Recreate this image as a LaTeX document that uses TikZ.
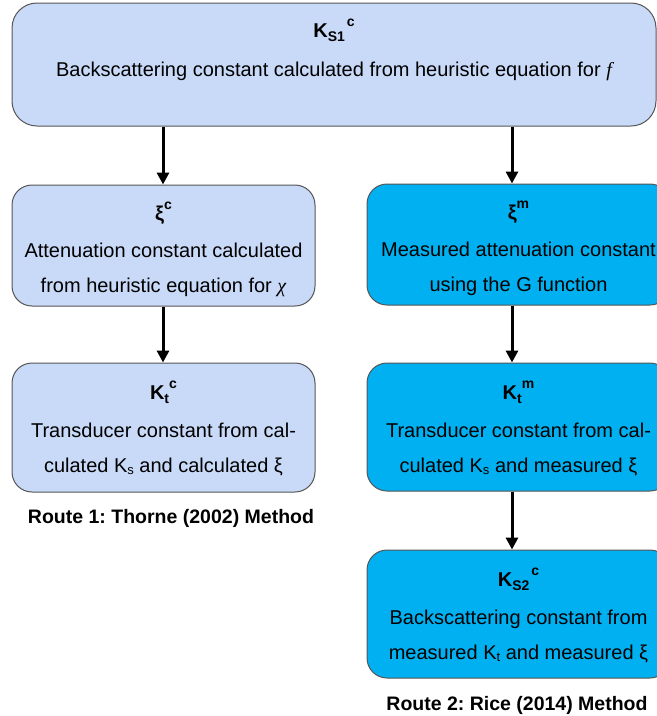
\documentclass[tikz,border=0pt]{standalone}
\usepackage{fontspec}
\setmainfont{Liberation Sans}
\newfontfamily\serifface{Liberation Serif}
\usetikzlibrary{arrows.meta}
\frenchspacing
\definecolor{lightbox}{RGB}{201,218,248}
\definecolor{darkbox}{RGB}{0,176,240}
\definecolor{boxline}{RGB}{85,85,85}
\newcommand\mysup[1]{\raisebox{10.5pt}{\fontsize{14}{14}\selectfont #1}}
\newcommand\mysub[1]{\raisebox{-4.5pt}{\fontsize{14}{14}\selectfont #1}}
\newcommand\bodysub[1]{\raisebox{-2.5pt}{\fontsize{13}{13}\selectfont #1}}
\newcommand\ttl{\fontsize{20}{20}\bfseries\selectfont}
\newcommand\topstrut[1]{\rule{0pt}{#1}}
\newcommand\botstrut[1]{\rule[-#1]{0pt}{#1}}
\begin{document}
\begin{tikzpicture}[x=1pt,y=-1pt,
  box/.style={draw=boxline, line width=1pt, rounded corners=20pt, align=center,
    inner sep=0pt, font=\fontsize{20}{35}\selectfont, minimum width=303pt},
  lbox/.style={box, fill=lightbox},
  dbox/.style={box, fill=darkbox},
  arr/.style={line width=3pt, -{Triangle[width=12pt,length=12pt]}},
  route/.style={font=\frenchspacing\fontsize{19.5}{24}\bfseries\selectfont, inner sep=0pt, anchor=base},
]
\useasboundingbox (0,0) rectangle (657,716);

\node[lbox, minimum width=644pt, minimum height=123pt, rounded corners=25pt] (ks1) at (334,64.5)
  {\topstrut{34.3pt}{\ttl K\mysub{S1}\hspace{2pt}\mysup{c}}\\[3.7pt]
   Backscattering constant calculated from heuristic equation for {\serifface\itshape f}\botstrut{50pt}};

\node[lbox, minimum height=121pt] (xic) at (163.5,245.5)
  {\topstrut{35pt}{\ttl ξ\mysup{c}}\\[2pt]
   Attenuation constant calculated\\
   from heuristic equation for {\serifface\itshape χ}\botstrut{14pt}};

\node[lbox, minimum height=129pt] (ktc) at (163.5,427.5)
  {\topstrut{36pt}{\ttl K\mysub{t}\mysup{c}}\\[3pt]
   Transducer constant from cal-\\
   culated K\bodysub{s} and calculated ξ\botstrut{20pt}};

\node[dbox, minimum height=121pt] (xim) at (518.5,244.5)
  {\topstrut{35pt}{\ttl ξ\mysup{m}}\\[2pt]
   Measured attenuation constant\\
   using the G function\botstrut{14pt}};

\node[dbox, minimum height=128pt] (ktm) at (518.5,427)
  {\topstrut{36pt}{\ttl K\mysub{t}\mysup{m}}\\[3pt]
   Transducer constant from cal-\\
   culated K\bodysub{s} and measured ξ\botstrut{19pt}};

\node[dbox, minimum height=128pt] (ks2) at (518.5,614)
  {\topstrut{36pt}{\ttl K\mysub{S2}\hspace{2pt}\mysup{c}}\\[3pt]
   Backscattering constant from\\
   measured K\bodysub{t} and measured ξ\botstrut{19pt}};

\node[route] (r1) at (171,523) {Route 1: Thorne (2002) Method};
\node[route] (r2) at (517,710) {Route 2: Rice (2014) Method};

\coordinate (lx) at (163,0);
\coordinate (rx) at (512,0);
\draw[arr] (ks1.south -| lx) -- (xic.north -| lx);
\draw[arr] (xic.south -| lx) -- (ktc.north -| lx);
\draw[arr] (ks1.south -| rx) -- (xim.north -| rx);
\draw[arr] (xim.south -| rx) -- (ktm.north -| rx);
\draw[arr] (ktm.south -| rx) -- (ks2.north -| rx);
\end{tikzpicture}
\end{document}
